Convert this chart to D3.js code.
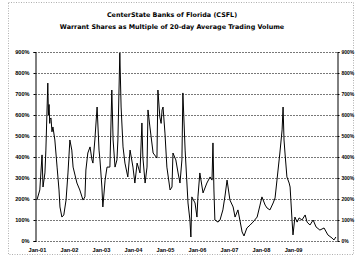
<!DOCTYPE html>
<html>
<head>
<meta charset="utf-8">
<script src="https://cdn.jsdelivr.net/npm/d3@7"></script>
<style>
	body { margin: 0; background: #fff; }
	svg { display: block; font-family: "DejaVu Sans", sans-serif; }
	.title { font-size: 6.4px; font-weight: bold; text-anchor: middle; }
	.tick text { font-size: 5.6px; font-weight: bold; }
	.right .tick text { font-size: 5px; }
</style>
</head>
<body>
<div id="chart"></div>
<script>
// x = decimal year, y = warrant shares as % of 20-day avg volume
const years = [2001.00, 2001.09, 2001.16, 2001.19, 2001.25, 2001.28, 2001.34, 2001.36, 2001.38, 2001.40, 2001.41, 2001.44,
	2001.47, 2001.50, 2001.56, 2001.63, 2001.69, 2001.72, 2001.78, 2001.84, 2001.91, 2001.97, 2002.03,
	2002.09, 2002.13, 2002.19, 2002.25, 2002.34, 2002.44, 2002.50, 2002.53, 2002.59, 2002.66,
	2002.72, 2002.75, 2002.81, 2002.88, 2002.94, 2002.97, 2003.03, 2003.06, 2003.13, 2003.19,
	2003.28, 2003.34, 2003.38, 2003.44, 2003.50, 2003.53, 2003.59, 2003.63, 2003.69, 2003.75,
	2003.84, 2003.91, 2004.00, 2004.06, 2004.13, 2004.22, 2004.28, 2004.31, 2004.38, 2004.44,
	2004.47, 2004.53, 2004.63, 2004.75, 2004.78, 2004.84, 2004.88, 2004.91, 2004.94, 2005.00, 2005.06,
	2005.16, 2005.22, 2005.25, 2005.34, 2005.41, 2005.47, 2005.53, 2005.56, 2005.63, 2005.72,
	2005.78, 2005.81, 2005.84, 2005.94, 2006.00, 2006.03, 2006.09, 2006.16, 2006.19, 2006.31,
	2006.41, 2006.47, 2006.50, 2006.53, 2006.56, 2006.66, 2006.72, 2006.81, 2006.88, 2006.94,
	2007.03, 2007.13, 2007.19, 2007.28, 2007.34, 2007.41, 2007.47, 2007.56, 2007.66, 2007.75,
	2007.88, 2007.97, 2008.03, 2008.13, 2008.19, 2008.28, 2008.38, 2008.44, 2008.50, 2008.59,
	2008.66, 2008.69, 2008.72, 2008.75, 2008.81, 2008.88, 2008.91, 2008.97, 2009.00, 2009.06,
	2009.13, 2009.19, 2009.28, 2009.38, 2009.44, 2009.53, 2009.63, 2009.72, 2009.84, 2009.97,
	2010.09, 2010.22, 2010.28, 2010.34];
const multiples = [195, 243, 410, 257, 324, 433, 752, 600, 650, 560, 580, 586,
	520, 543, 481, 352, 243, 162, 114, 124, 195, 324, 481,
	433, 352, 314, 276, 243, 195, 210, 338, 419, 448,
	386, 371, 481, 638, 433, 386, 257, 162, 290, 352,
	352, 719, 481, 352, 386, 481, 895, 638, 448, 371,
	305, 433, 352, 276, 371, 324, 562, 400, 276, 352,
	624, 543, 419, 395, 719, 590, 560, 624, 638, 514, 352,
	243, 257, 419, 386, 324, 276, 386, 705, 433, 181,
	100, 19, 210, 181, 114, 210, 324, 257, 229, 276,
	305, 290, 467, 243, 100, 90, 100, 148, 219, 290,
	195, 162, 114, 148, 100, 43, 24, 62, 76, 90,
	114, 171, 210, 171, 157, 148, 181, 205, 290, 419,
	529, 638, 481, 419, 305, 276, 257, 100, 29, 114,
	90, 110, 100, 124, 90, 76, 100, 67, 52, 62,
	29, 14, 5, 19];
const yearTicks = [2001, 2002, 2003, 2004, 2005, 2006, 2007, 2008, 2009];
const pctTicks = [0, 100, 200, 300, 400, 500, 600, 700, 800, 900];

const width = 356, height = 257;
const margin = { top: 52, right: 19, bottom: 16, left: 35 };

const svg = d3.select("#chart").append("svg")
	.attr("width", width)
	.attr("height", height);

// chart area border (dotted, like the excel frame)
svg.append("rect")
	.attr("x", 8.5).attr("y", 2.5)
	.attr("width", 345).attr("height", 252)
	.attr("fill", "none")
	.attr("stroke", "#999")
	.attr("stroke-dasharray", "1,1.5")
	.attr("stroke-width", 0.8);

svg.append("text").attr("class", "title")
	.attr("x", 172).attr("y", 17)
	.text("CenterState Banks of Florida (CSFL)");
svg.append("text").attr("class", "title")
	.attr("x", 172).attr("y", 29)
	.text("Warrant Shares as Multiple of 20-day Average Trading Volume");

const x = d3.scaleLinear()
	.domain([2000.94, 2010.375])
	.range([margin.left, width - margin.right]);
const y = d3.scaleLinear()
	.domain([0, 900])
	.range([height - margin.bottom, margin.top]);

// gridlines
svg.append("g")
	.selectAll("line")
	.data(pctTicks)
	.join("line")
	.attr("x1", x.range()[0]).attr("x2", x.range()[1])
	.attr("y1", d => Math.round(y(d)) + 0.5)
	.attr("y2", d => Math.round(y(d)) + 0.5)
	.attr("stroke", "#555")
	.attr("stroke-width", 0.8)
	.attr("stroke-dasharray", "2,1");

const fmt = d => d + "%";

const yLeft = svg.append("g")
	.attr("transform", `translate(${margin.left + 0.5},0)`)
	.call(d3.axisLeft(y).tickValues(pctTicks).tickFormat(fmt).tickSize(2).tickPadding(4));
const yRight = svg.append("g")
	.attr("class", "right")
	.attr("transform", `translate(${width - margin.right + 0.5},0)`)
	.call(d3.axisRight(y).tickValues(pctTicks).tickFormat(fmt).tickSize(2).tickPadding(2));
[yLeft, yRight].forEach(g => {
	g.select(".domain").attr("stroke-width", 1);
});

const xAxis = svg.append("g")
	.attr("transform", `translate(0,${height - margin.bottom})`)
	.call(d3.axisBottom(x).tickValues(yearTicks)
		.tickFormat(d => "Jan-" + String(d % 100).padStart(2, "0"))
		.tickSize(0).tickPadding(7));
xAxis.select(".domain").remove();

const line = d3.line()
	.x((d, i) => x(years[i]))
	.y(d => y(d));

svg.append("path")
	.datum(multiples)
	.attr("fill", "none")
	.attr("stroke", "#000")
	.attr("stroke-width", 1)
	.attr("d", line);
</script>
</body>
</html>
